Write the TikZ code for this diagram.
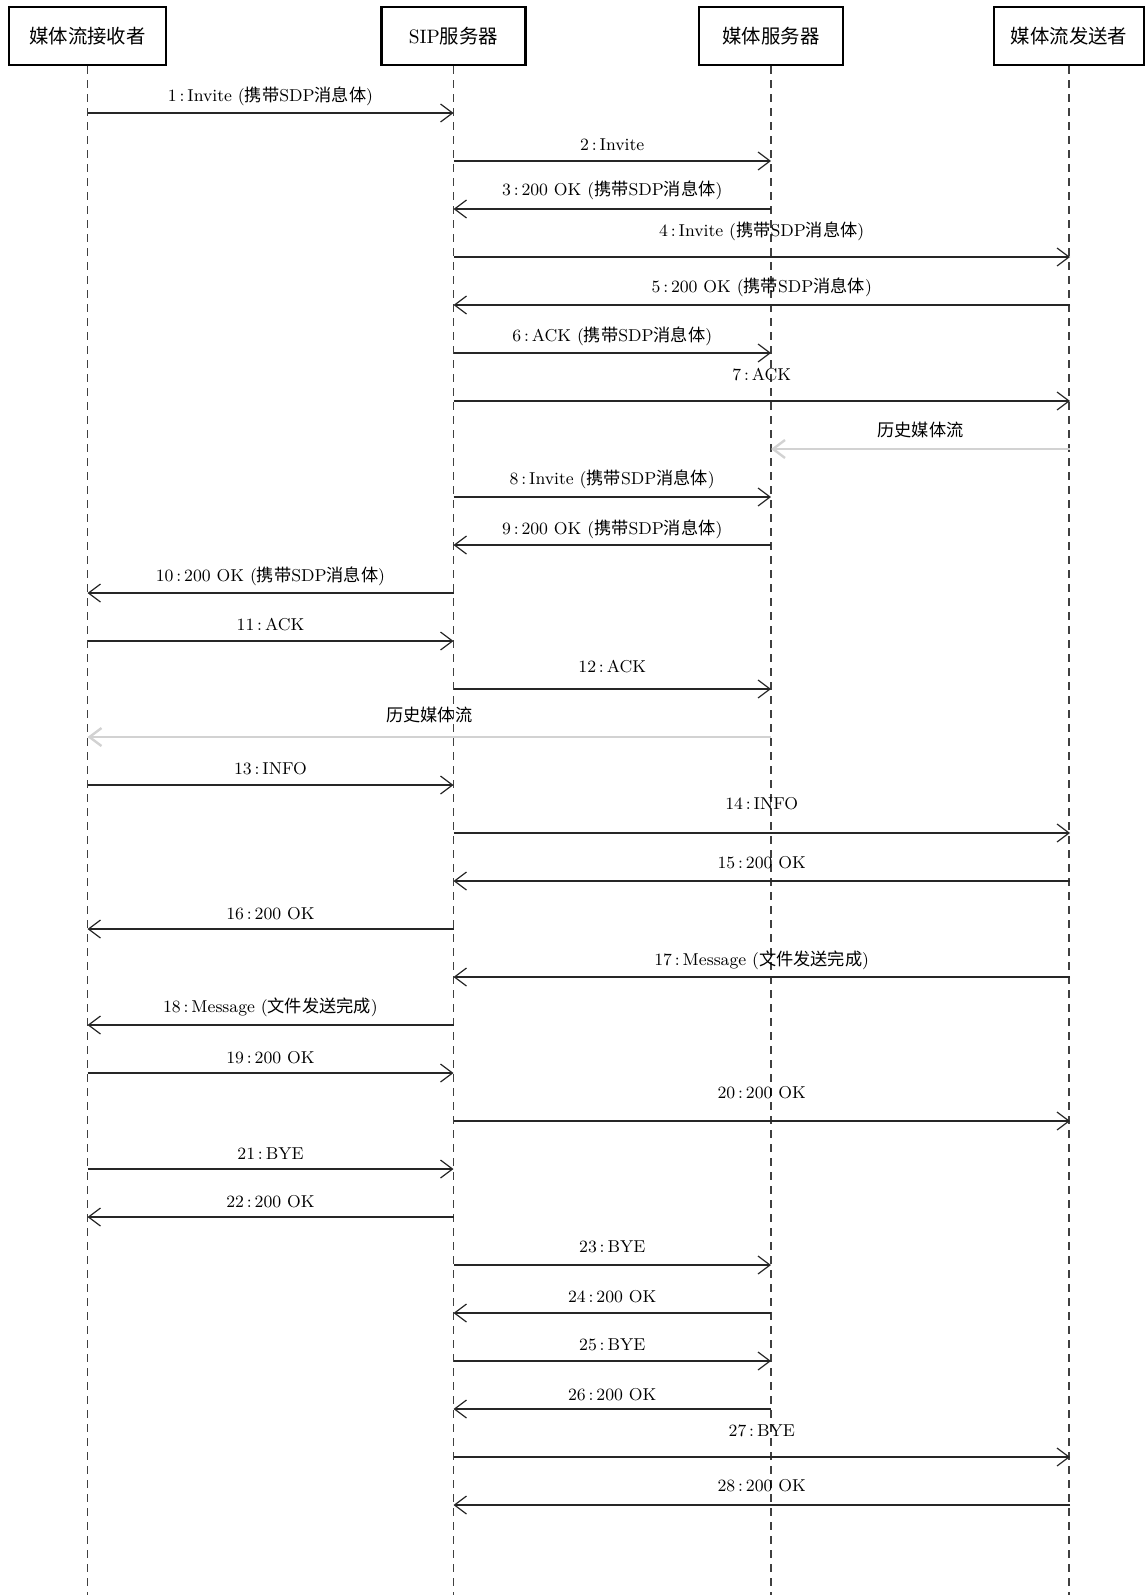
\documentclass[tikz,border=0pt]{standalone}
\usepackage{fontspec}
\newfontfamily\cjk{Noto Sans CJK SC}
\usetikzlibrary{arrows.meta}
\newcommand{\zh}[1]{{\cjk #1}}
\newcommand{\sep}{\,:\,}

\begin{document}
\begin{tikzpicture}
[x=0.5pt,y=-0.5pt,
  objbox/.style={draw,line width=1.2pt,minimum height=29pt,inner sep=0pt,font=\fontsize{9.7}{11}\selectfont},
  lifeline/.style={dash pattern=on 4pt off 3pt,line width=0.6pt,black!75},
  msg/.style={line width=0.6pt,black!85,-{Straight Barb[length=6pt,width=9pt,line width=0.6pt]}},
  histmsg/.style={line width=1.4pt,gray!35,-{Straight Barb[length=6pt,width=9pt,line width=1.2pt]}},
  msglabel/.style={inner sep=0pt,black,font=\fontsize{8.6}{10}\selectfont}]
\useasboundingbox (0,0) rectangle (1145,1595);
% participants
\node (rcv) at (87.5,36) [objbox,minimum width=78.5pt] {\zh{媒体流接收者}};
\node (sip) at (453.5,36) [objbox,minimum width=72pt] {SIP\zh{服务器}};
\node (mds) at (771,36) [objbox,minimum width=72pt] {\zh{媒体服务器}};
\node (snd) at (1069,36) [objbox,minimum width=75pt] {\zh{媒体流发送者}};
\coordinate (bottom) at (0,1595);
% lifelines
\foreach \p in {rcv,sip,mds,snd}
  \draw[lifeline] (\p.south) -- (\p.south |- bottom);
% message rows on each lifeline
\foreach \i in {1,...,30} {
  \coordinate (a\i) at (87.5,{113+48*(\i-1)});
  \coordinate (b\i) at (453.5,{113+48*(\i-1)});
  \coordinate (c\i) at (771,{113+48*(\i-1)});
  \coordinate (d\i) at (1070,{113+48*(\i-1)});
}
% messages
\draw[msg] (a1) -- node[msglabel,yshift=8.1pt] {1\sep Invite (\zh{携带}SDP\zh{消息体})} (b1);
\draw[msg] (b2) -- node[msglabel,yshift=8pt] {2\sep Invite} (c2);
\draw[msg] (c3) -- node[msglabel,yshift=9.5pt] {3\sep 200 OK (\zh{携带}SDP\zh{消息体})} (b3);
\draw[msg] (b4) -- node[msglabel,yshift=13pt] {4\sep Invite (\zh{携带}SDP\zh{消息体})} (d4);
\draw[msg] (d5) -- node[msglabel,yshift=9pt] {5\sep 200 OK (\zh{携带}SDP\zh{消息体})} (b5);
\draw[msg] (b6) -- node[msglabel,yshift=8.5pt] {6\sep ACK (\zh{携带}SDP\zh{消息体})} (c6);
\draw[msg] (b7) -- node[msglabel,yshift=13pt] {7\sep ACK} (d7);
\draw[histmsg] (d8) -- node[msglabel,yshift=9.5pt] {\zh{历史媒体流}} (c8);
\draw[msg] (b9) -- node[msglabel,yshift=9pt] {8\sep Invite (\zh{携带}SDP\zh{消息体})} (c9);
\draw[msg] (c10) -- node[msglabel,yshift=8pt] {9\sep 200 OK (\zh{携带}SDP\zh{消息体})} (b10);
\draw[msg] (b11) -- node[msglabel,yshift=8.5pt] {10\sep 200 OK (\zh{携带}SDP\zh{消息体})} (a11);
\draw[msg] (a12) -- node[msglabel,yshift=8pt] {11\sep ACK} (b12);
\draw[msg] (b13) -- node[msglabel,yshift=11pt] {12\sep ACK} (c13);
\draw[histmsg] (c14) -- node[msglabel,yshift=11pt] {\zh{历史媒体流}} (a14);
\draw[msg] (a15) -- node[msglabel,yshift=8pt] {13\sep INFO} (b15);
\draw[msg] (b16) -- node[msglabel,yshift=14.5pt] {14\sep INFO} (d16);
\draw[msg] (d17) -- node[msglabel,yshift=9pt] {15\sep 200 OK} (b17);
\draw[msg] (b18) -- node[msglabel,yshift=7.5pt] {16\sep 200 OK} (a18);
\draw[msg] (d19) -- node[msglabel,yshift=8.5pt] {17\sep Message (\zh{文件发送完成})} (b19);
\draw[msg] (b20) -- node[msglabel,yshift=9pt] {18\sep Message (\zh{文件发送完成})} (a20);
\draw[msg] (a21) -- node[msglabel,yshift=7.5pt] {19\sep 200 OK} (b21);
\draw[msg] (b22) -- node[msglabel,yshift=14pt] {20\sep 200 OK} (d22);
\draw[msg] (a23) -- node[msglabel,yshift=7.5pt] {21\sep BYE} (b23);
\draw[msg] (b24) -- node[msglabel,yshift=7.5pt] {22\sep 200 OK} (a24);
\draw[msg] (b25) -- node[msglabel,yshift=9pt] {23\sep BYE} (c25);
\draw[msg] (c26) -- node[msglabel,yshift=8pt] {24\sep 200 OK} (b26);
\draw[msg] (b27) -- node[msglabel,yshift=8pt] {25\sep BYE} (c27);
\draw[msg] (c28) -- node[msglabel,yshift=7pt] {26\sep 200 OK} (b28);
\draw[msg] (b29) -- node[msglabel,yshift=13pt] {27\sep BYE} (d29);
\draw[msg] (d30) -- node[msglabel,yshift=9.5pt] {28\sep 200 OK} (b30);
\end{tikzpicture}
\end{document}
